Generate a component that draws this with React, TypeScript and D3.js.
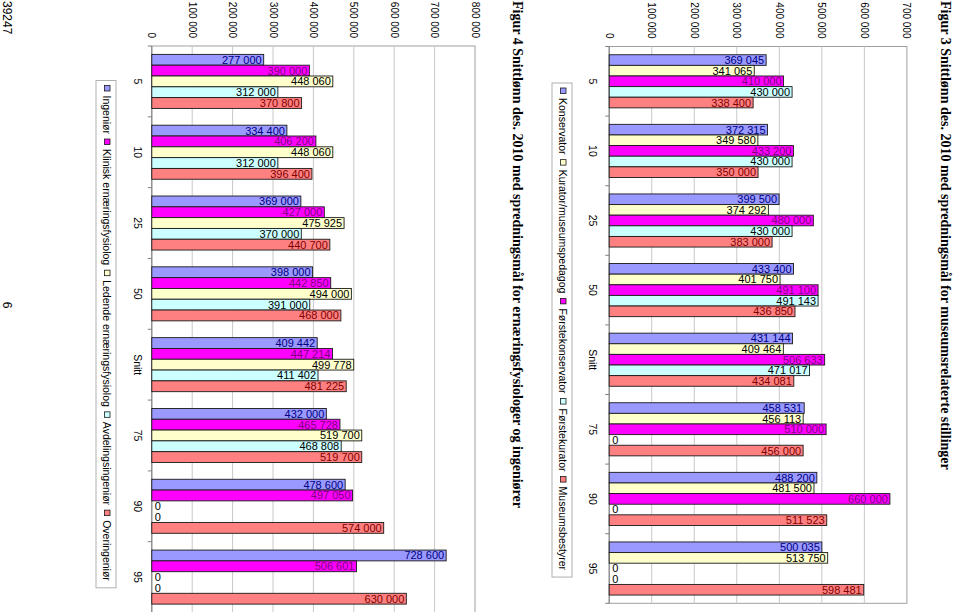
import React, { useEffect, useRef } from "react";
import * as d3 from "d3";

// Percentiles (and average) on the category axis
const categories = ["5", "10", "25", "50", "Snitt", "75", "90", "95"];

// Figur 3 – museum positions
const museumSeries = ["Konservator", "Kurator/museumspedagog", "Førstekonservator", "Førstekurator", "Museumsbestyrer"];
const konservator = [369045, 372315, 399500, 433400, 431144, 458531, 488200, 500035];
const kurator = [341065, 349580, 374292, 401750, 409464, 456113, 481500, 513750];
const forstekonservator = [410000, 433200, 480000, 491100, 506633, 510000, 660000, 0];
const forstekurator = [430000, 430000, 430000, 491143, 471017, 0, 0, 0];
const museumsbestyrer = [338400, 350000, 383000, 436850, 434081, 456000, 511523, 598481];

// Figur 4 – nutritionists and engineers
const engSeries = ["Ingeniør", "Klinisk ernæringsfysiolog", "Ledende ernæringsfysiolog", "Avdelingsingeniør", "Overingeniør"];
const ingenior = [277000, 334400, 369000, 398000, 409442, 432000, 478600, 728600];
const klinisk = [390000, 406200, 427000, 442850, 447214, 465728, 497050, 506601];
const ledende = [448060, 448060, 475925, 494000, 499778, 519700, 0, 0];
const avdelingsingenior = [312000, 312000, 370000, 391000, 411402, 468808, 0, 0];
const overingenior = [370800, 396400, 440700, 468000, 481225, 519700, 574000, 630000];

const museumTicks = [0, 100000, 200000, 300000, 400000, 500000, 600000, 700000];
const engTicks = [0, 100000, 200000, 300000, 400000, 500000, 600000, 700000, 800000];

const SANS = "'Liberation Sans', Arial, sans-serif";
const SERIF = "'Liberation Serif', 'Times New Roman', serif";

const fmt = (v: number) => d3.format(",")(v).replace(/,/g, " ");

interface ChartOpts {
  series: string[];
  values: number[][];
  fills: string[];
  labelColors: string[];
  ticks: number[];
  x0: number;
  x1: number;
  top: number;
  bottom: number;
  catLabelX: number;
  legendX: number;
  legendTop: number;
  title: string;
  titleX: number;
}

function drawChart(svg: d3.Selection<SVGSVGElement, unknown, null, undefined>, o: ChartOpts) {
  const g = svg.append("g");
  const maxV = o.ticks[o.ticks.length - 1];
  const x = d3.scaleLinear().domain([0, maxV]).range([o.x0, o.x1]);
  const y = d3.scaleBand<string>().domain(categories).range([o.top, o.bottom]).paddingInner(0.237).paddingOuter(0.1185);
  const ys = d3.scaleBand<number>().domain(d3.range(o.series.length)).range([0, y.bandwidth()]);

  // plot area
  g.append("rect")
    .attr("x", o.x0).attr("y", o.top)
    .attr("width", o.x1 - o.x0).attr("height", o.bottom - o.top)
    .attr("fill", "#fff").attr("stroke", "#a0a0a0").attr("stroke-width", 1);

  g.selectAll(".grid").data(o.ticks.slice(1, -1)).join("line")
    .attr("x1", (d) => x(d)).attr("x2", (d) => x(d))
    .attr("y1", o.top).attr("y2", o.bottom)
    .attr("stroke", "#c8c8c8").attr("stroke-width", 1);

  // value tick labels, rotated
  g.selectAll(".tl").data(o.ticks).join("text")
    .attr("transform", (d) => `translate(${x(d)},${o.top - 8}) rotate(90)`)
    .attr("text-anchor", "end").attr("dy", "0.35em")
    .attr("font-family", SANS).attr("font-size", 10).attr("fill", "#000")
    .text((d) => fmt(d));

  // category axis
  g.append("line")
    .attr("x1", o.x0).attr("x2", o.x0).attr("y1", o.top).attr("y2", o.bottom)
    .attr("stroke", "#808080");
  const step = y.step();
  g.selectAll(".ct").data(d3.range(categories.length + 1)).join("line")
    .attr("x1", o.x0 - 4).attr("x2", o.x0)
    .attr("y1", (i) => o.top + i * step).attr("y2", (i) => o.top + i * step)
    .attr("stroke", "#808080");

  g.selectAll(".cl").data(categories).join("text")
    .attr("transform", (d) => `translate(${o.catLabelX},${y(d)! + y.bandwidth() / 2}) rotate(90)`)
    .attr("text-anchor", "middle").attr("dy", "0.35em")
    .attr("font-family", SANS).attr("font-size", 10.5).attr("fill", "#000")
    .text((d) => d);

  // bars + labels
  o.series.forEach((_, si) => {
    const vals = o.values[si];
    const sg = g.append("g");
    sg.selectAll("rect").data(vals).join("rect")
      .attr("x", o.x0)
      .attr("y", (_, i) => y(categories[i])! + ys(si)!)
      .attr("width", (d) => x(d) - o.x0)
      .attr("height", ys.bandwidth())
      .attr("fill", o.fills[si])
      .attr("stroke", (d) => (d > 0 ? "#1a1a1a" : "none"))
      .attr("stroke-width", 0.9);
    sg.selectAll("text").data(vals).join("text")
      .attr("x", (d) => (d > 0 ? x(d) - 2 : o.x0 + 3))
      .attr("y", (_, i) => y(categories[i])! + ys(si)! + ys.bandwidth() / 2)
      .attr("dy", "0.36em")
      .attr("text-anchor", (d) => (d > 0 ? "end" : "start"))
      .attr("font-family", SANS).attr("font-size", 11)
      .attr("fill", (d) => (d > 0 ? o.labelColors[si] : "#000"))
      .text((d) => fmt(d));
  });

  // legend (rotated, laid out along local x)
  const lg = g.append("g").attr("transform", `translate(${o.legendX},${o.legendTop}) rotate(90)`);
  const box = lg.append("rect");
  let pos = 5;
  o.series.forEach((name, si) => {
    lg.append("rect")
      .attr("x", pos).attr("y", -7).attr("width", 5.5).attr("height", 5.5)
      .attr("fill", o.fills[si]).attr("stroke", "#1a1a1a").attr("stroke-width", 0.8);
    pos += 10;
    const t = lg.append("text")
      .attr("x", pos).attr("y", 0)
      .attr("font-family", SANS).attr("font-size", 10.5).attr("fill", "#000")
      .text(name);
    pos += (t.node() as SVGTextElement).getComputedTextLength() + 5;
  });
  box.attr("x", 0).attr("y", -13).attr("width", pos + 2).attr("height", 20)
    .attr("fill", "#fff").attr("stroke", "#b0b0b0").attr("stroke-width", 1);

  // figure caption
  svg.append("text")
    .attr("transform", `translate(${o.titleX},1) rotate(90)`)
    .attr("font-family", SERIF).attr("font-size", 14).attr("font-weight", "bold").attr("fill", "#000")
    .text(o.title);
}

export default function App() {
  const svgRef = useRef<SVGSVGElement | null>(null);

  useEffect(() => {
    if (!svgRef.current) return;
    const svg = d3.select(svgRef.current);
    svg.selectAll("*").remove();

    svg.append("rect").attr("width", 960).attr("height", 612).attr("fill", "#fff");

    drawChart(svg, {
      series: museumSeries,
      values: [konservator, kurator, forstekonservator, forstekurator, museumsbestyrer],
      fills: ["#9999FF", "#FFFFCC", "#FF00FF", "#CCFFFF", "#FF8080"],
      labelColors: ["#000080", "#000000", "#800080", "#000000", "#800000"],
      ticks: museumTicks,
      x0: 609.2,
      x1: 906.9,
      top: 46.5,
      bottom: 603.3,
      catLabelX: 592.5,
      legendX: 559,
      legendTop: 83,
      title: "Figur 3 Snittlønn des. 2010 med spredningsmål for museumsrelaterte stillinger",
      titleX: 941,
    });

    drawChart(svg, {
      series: engSeries,
      values: [ingenior, klinisk, ledende, avdelingsingenior, overingenior],
      fills: ["#9999FF", "#FF00FF", "#FFFFCC", "#CCFFFF", "#FF8080"],
      labelColors: ["#000080", "#800080", "#000000", "#000000", "#800000"],
      ticks: engTicks,
      x0: 151.8,
      x1: 475,
      top: 46,
      bottom: 612.5,
      catLabelX: 137.5,
      legendX: 103,
      legendTop: 80.5,
      title: "Figur 4 Snittlønn des. 2010 med spredningsmål for ernæringsfysiologer og ingeniører",
      titleX: 513,
    });

    // page footer
    svg.append("text")
      .attr("transform", "translate(3,1) rotate(90)")
      .attr("font-family", SANS).attr("font-size", 12).attr("fill", "#000")
      .text("39247");
    svg.append("text")
      .attr("transform", "translate(3,305) rotate(90)")
      .attr("text-anchor", "middle")
      .attr("font-family", SANS).attr("font-size", 12).attr("fill", "#000")
      .text("6");
  }, []);

  return (
    <svg
      ref={svgRef}
      width={960}
      height={612}
      style={{ position: "absolute", left: 0, top: 0, display: "block" }}
    />
  );
}
